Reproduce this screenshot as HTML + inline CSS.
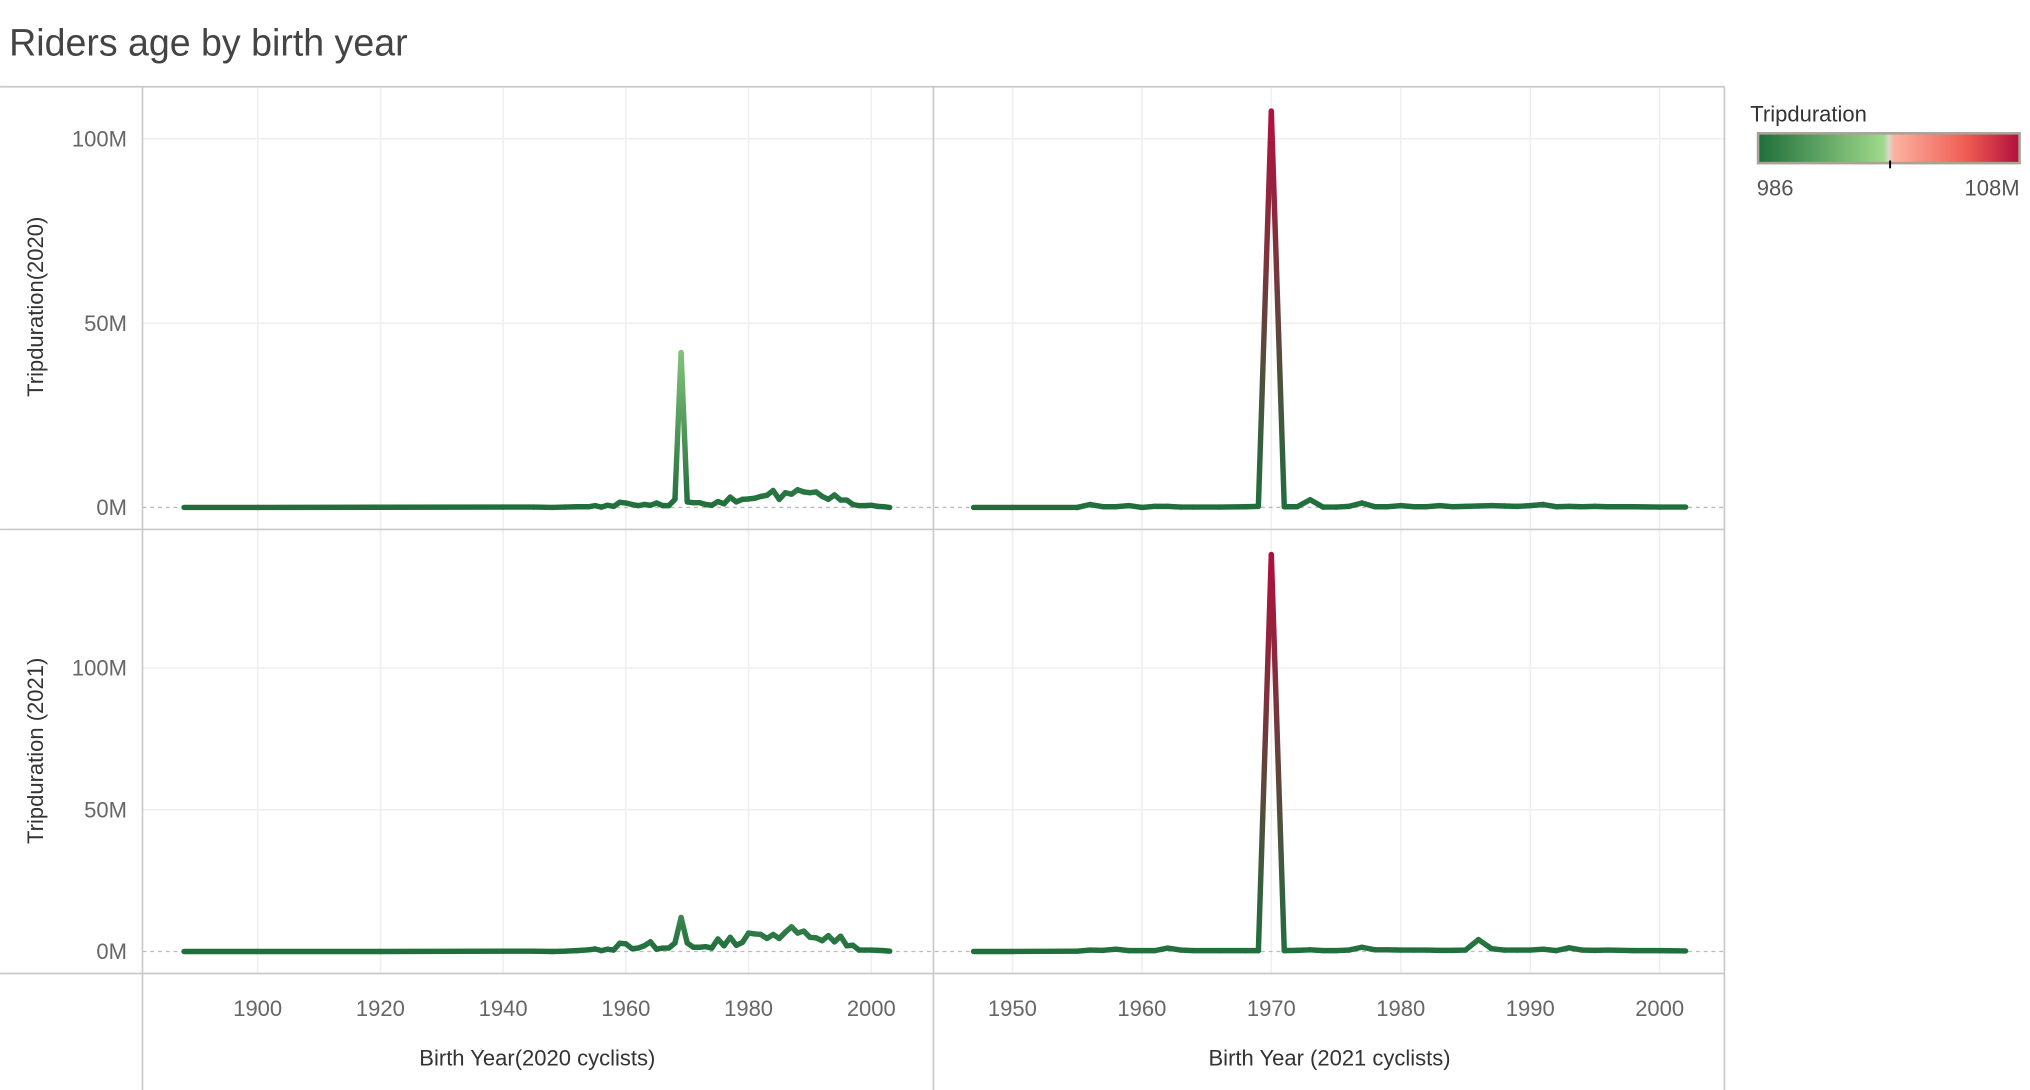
<!DOCTYPE html>
<html><head><meta charset="utf-8"><style>
html,body{margin:0;padding:0;background:#fff;width:2030px;height:1090px;overflow:hidden}
svg{display:block;font-family:"Liberation Sans",sans-serif}
</style></head><body>
<svg id="chart" width="2030" height="1090" viewBox="0 0 1568 842">
<text x="7" y="43" font-size="29" fill="#444" font-weight="300">Riders age by birth year</text>
<g id="grid"></g>
<g id="frame" stroke="#c9c9c9" stroke-width="1.3">
<line x1="0" y1="67" x2="1332" y2="67"/><line x1="0" y1="409" x2="1332" y2="409"/><line x1="0" y1="752" x2="1332" y2="752"/>
<line x1="110" y1="67" x2="110" y2="842"/><line x1="721" y1="67" x2="721" y2="842"/><line x1="1332" y1="67" x2="1332" y2="842"/>
</g>
<defs id="defs"></defs>
<g id="lines"></g>
<g id="labels" font-size="17" fill="#666"></g>
<text transform="translate(33,237) rotate(-90)" text-anchor="middle" font-size="17" fill="#333">Tripduration(2020)</text>
<text transform="translate(33,580) rotate(-90)" text-anchor="middle" font-size="17" fill="#333">Tripduration (2021)</text>
<text x="415" y="823" text-anchor="middle" font-size="17" fill="#333">Birth Year(2020 cyclists)</text>
<text x="1027" y="823" text-anchor="middle" font-size="17" fill="#333">Birth Year (2021 cyclists)</text>
<g>
<text x="1352" y="94" font-size="17" fill="#333">Tripduration</text>
<defs><linearGradient id="lg" x1="0" x2="1"><stop offset="0" stop-color="#1f6e3c"/><stop offset="0.48" stop-color="#9fd98a"/><stop offset="0.5" stop-color="#d9d9c9"/><stop offset="0.52" stop-color="#fdb1a0"/><stop offset="0.8" stop-color="#ee5b52"/><stop offset="1" stop-color="#b10f3c"/></linearGradient></defs>
<rect x="1358" y="103" width="202" height="23" fill="url(#lg)" stroke="#aaa297" stroke-width="2"/>
<line x1="1460" y1="124" x2="1460" y2="130" stroke="#000" stroke-width="1.5"/>
<text x="1357" y="151" font-size="17" fill="#555">986</text>
<text x="1560" y="151" font-size="17" fill="#555" text-anchor="end">108M</text>
</g>
</svg>
<script>
const years2020 = [1888,1900,1920,1940,1945,1948,1950,1952,1954,1955,1956,1957,1958,1959,1960,1961,1962,1963,1964,1965,1966,1967,1968,1969,1970,1971,1972,1973,1974,1975,1976,1977,1978,1979,1980,1981,1982,1983,1984,1985,1986,1987,1988,1989,1990,1991,1992,1993,1994,1995,1996,1997,1998,1999,2000,2001,2002,2003];
const trip2020 = [0,0,0.05,0.1,0.1,0,0.1,0.2,0.2,0.5,0.1,0.6,0.3,1.4,1.2,0.8,0.5,0.8,0.6,1.2,0.5,0.5,2.2,42,1.5,1.3,1.3,0.8,0.6,1.6,1.0,2.8,1.5,2.2,2.3,2.5,3.0,3.3,4.6,2.2,4.0,3.6,4.8,4.2,4.0,4.2,3.0,2.2,3.4,2.0,2.0,0.8,0.5,0.5,0.6,0.3,0.2,0];
const trip2020by2021 = [0,0,0,0.1,0.1,0,0.1,0.3,0.6,0.9,0.3,0.8,0.5,2.9,2.7,1.0,1.2,2.0,3.4,0.8,1.2,1.2,3.0,12,3.0,1.5,1.5,1.7,1.2,4.4,2.0,5.0,2.2,3.2,6.5,6.2,6.0,4.6,6.0,4.6,6.8,8.7,6.5,7.2,5.0,4.8,3.8,5.6,3.4,5.4,2.0,2.2,0.5,0.5,0.5,0.4,0.3,0.1];
const years2021 = [1947,1950,1955,1956,1957,1958,1959,1960,1961,1962,1963,1964,1966,1968,1969,1970,1971,1972,1973,1974,1975,1976,1977,1978,1979,1980,1981,1982,1983,1984,1985,1986,1987,1988,1989,1990,1991,1992,1993,1994,1995,1996,1998,2000,2002];
const trip2021top = [0,0,0,0.8,0.2,0.2,0.5,0,0.3,0.3,0.1,0.1,0.1,0.2,0.3,107.5,0.2,0.2,2.1,0.1,0.1,0.3,1.2,0.2,0.2,0.5,0.2,0.2,0.5,0.2,0.3,0.4,0.5,0.4,0.3,0.5,0.8,0.2,0.3,0.2,0.3,0.2,0.2,0.1,0.1];
const trip2021bot = [0,0,0.1,0.5,0.4,0.8,0.3,0.3,0.3,1.2,0.5,0.3,0.3,0.3,0.3,140,0.3,0.4,0.6,0.3,0.3,0.5,1.5,0.6,0.6,0.5,0.5,0.5,0.4,0.4,0.5,4.2,1.0,0.5,0.5,0.5,0.8,0.3,1.3,0.5,0.4,0.5,0.3,0.3,0.2];
const ticksLeft = [1900,1920,1940,1960,1980,2000];
const ticksRight = [1950,1960,1970,1980,1990,2000];
const ticksTop = [0,50,100];
const ticksBot = [0,50,100];

const xL = y => 199 + (y - 1900) * 4.74;
const xR = y => 782 + (y - 1950) * 10.0;
const yT = v => 392 - v * 2.848;
const yB = v => 735 - v * 2.19;
const NS = "http://www.w3.org/2000/svg";
const hex = h => [1,3,5].map(i => parseInt(h.substr(i,2),16));
function mix(a,b,t){const A=hex(a),B=hex(b);return "rgb("+A.map((c,i)=>Math.round(c+(B[i]-c)*t)).join(",")+")";}
function color(v){let t=Math.max(0,Math.min(1,v/108));
  if(t<0.5) return mix("#1f6e3c","#9fd98a",t/0.5);
  return mix("#fdb1a0","#b10f3c",(t-0.5)/0.5);}
const grid=document.getElementById("grid"), lines=document.getElementById("lines"), defs=document.getElementById("defs"), labels=document.getElementById("labels");
function ln(g,x1,y1,x2,y2,st,w,dash){const l=document.createElementNS(NS,"line");l.setAttribute("x1",x1);l.setAttribute("y1",y1);l.setAttribute("x2",x2);l.setAttribute("y2",y2);l.setAttribute("stroke",st);l.setAttribute("stroke-width",w);if(dash)l.setAttribute("stroke-dasharray",dash);g.appendChild(l);return l;}
function txt(x,y,s,anchor,name){const t=document.createElementNS(NS,"text");t.setAttribute("x",x);t.setAttribute("y",y);t.setAttribute("text-anchor",anchor);t.textContent=s;


labels.appendChild(t);}
ticksLeft.forEach(y=>{ln(grid,xL(y),67,xL(y),752,"#efefef",1.2);txt(xL(y),785,y,"middle","x-tick-left");});
ticksRight.forEach(y=>{ln(grid,xR(y),67,xR(y),752,"#efefef",1.2);txt(xR(y),785,y,"middle","x-tick-right");});
ticksTop.forEach(v=>{if(v>0)ln(grid,110,yT(v),1332,yT(v),"#efefef",1.2);txt(98,yT(v)+6,v+"M","end","y-tick-2020");});
ticksBot.forEach(v=>{if(v>0)ln(grid,110,yB(v),1332,yB(v),"#efefef",1.2);txt(98,yB(v)+6,v+"M","end","y-tick-2021");});
ln(grid,110,yT(0),1332,yT(0),"#bbb",1,"3,3");
ln(grid,110,yB(0),1332,yB(0),"#bbb",1,"3,3");
let gid=0;
function series(xs,vs,fx,fy,name){
  for(let i=0;i<xs.length-1;i++){
    const x1=fx(xs[i]),y1=fy(vs[i]),x2=fx(xs[i+1]),y2=fy(vs[i+1]);
    const id="g"+(gid++);
    const g=document.createElementNS(NS,"linearGradient");g.setAttribute("id",id);g.setAttribute("gradientUnits","userSpaceOnUse");
    g.setAttribute("x1",x1);g.setAttribute("y1",y1);g.setAttribute("x2",x2===x1&&y1===y2?x2+1:x2);g.setAttribute("y2",y2);
    [[0,vs[i]],[1,vs[i+1]]].forEach(([o,v])=>{const s=document.createElementNS(NS,"stop");s.setAttribute("offset",o);s.setAttribute("stop-color",color(v));g.appendChild(s);});
    defs.appendChild(g);
    const l=ln(lines,x1,y1,x2,y2,"url(#"+id+")",4.2);
    l.setAttribute("stroke-linecap","round");
    
    
  }
}
series(years2020,trip2020,xL,yT,"line-2020-riders-2020");
series(years2020,trip2020by2021,xL,yB,"line-2020-riders-2021");
series(years2021,trip2021top,xR,yT,"line-2021-riders-2020");
series(years2021,trip2021bot,xR,yB,"line-2021-riders-2021");
</script>
</body></html>
